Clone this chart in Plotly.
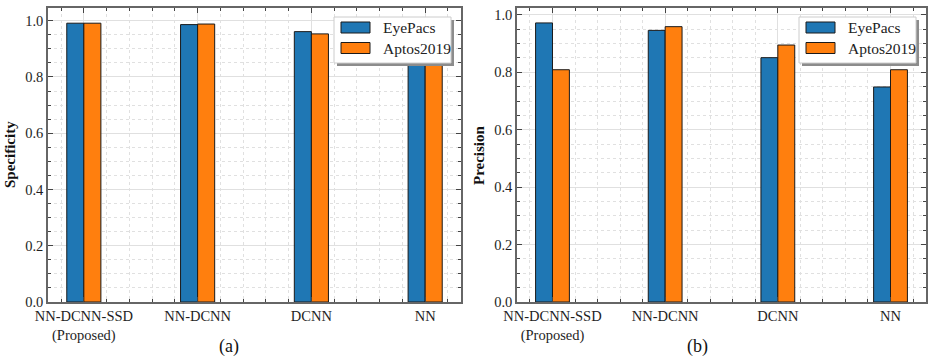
import plotly.graph_objects as go

categories = ["NN-DCNN-SSD<br>(Proposed)", "NN-DCNN", "DCNN", "NN"]
series_names = ["EyePacs", "Aptos2019"]
specificity_eyepacs = [0.991, 0.986, 0.961, 0.945]
specificity_aptos = [0.991, 0.988, 0.953, 0.935]
precision_eyepacs = [0.972, 0.946, 0.851, 0.749]
precision_aptos = [0.809, 0.959, 0.895, 0.809]
y_titles = ["Specificity", "Precision"]
captions = ["(a)", "(b)"]
yticks = [0.0, 0.2, 0.4, 0.6, 0.8, 1.0]

W, H = 934, 363
colors = ["#1f77b4", "#ff7f0e"]
FONT = "Liberation Serif, Times New Roman, serif"

def px(x):
    return x / W

def py(y):
    return 1 - y / H

panels = [
    dict(x0=48, x1=461, data=[specificity_eyepacs, specificity_aptos], yr=[0, 1.045],
         title_x=10, cap_x=229),
    dict(x0=517, x1=926, data=[precision_eyepacs, precision_aptos], yr=[0, 1.024],
         title_x=479, cap_x=697),
]
top_px, bot_px = 8, 302

fig = go.Figure()
xpos = list(range(len(categories)))

shapes = []
annotations = []
for i, p in enumerate(panels):
    sfx = "" if i == 0 else str(i + 1)
    for j, vals in enumerate(p["data"]):
        fig.add_trace(go.Bar(
            x=xpos, y=vals, name=series_names[j],
            width=0.15, offset=-0.15 + 0.15 * j,
            marker=dict(color=colors[j], line=dict(color="#1a1a1a", width=1)),
            xaxis="x" + sfx, yaxis="y" + sfx, showlegend=False,
        ))
    common_axis = dict(
        showline=True, linecolor="#666666", linewidth=1.5, mirror="allticks",
        ticks="inside", ticklen=5, tickwidth=1, tickcolor="#444444",
        showgrid=True, gridcolor="#e0e0e0", gridwidth=1,
        zeroline=False, automargin=False,
        tickfont=dict(family=FONT, size=14.5, color="#1e1e1e"),
    )
    minor_common = dict(ticks="inside", ticklen=3, tickcolor="#444444",
                        showgrid=True, gridcolor="#e0e0e0", griddash="3px,3px", gridwidth=1)
    fig.update_layout(**{
        "xaxis" + sfx: dict(
            common_axis,
            domain=[px(p["x0"]), px(p["x1"])],
            anchor="y" + sfx,
            range=[-0.315, 3.315],
            tickmode="array", tickvals=xpos, ticktext=categories,
            minor=dict(minor_common, dtick=0.2, tick0=0),
        ),
        "yaxis" + sfx: dict(
            common_axis,
            domain=[py(bot_px), py(top_px)],
            anchor="x" + sfx,
            range=p["yr"],
            tickmode="array", tickvals=yticks, tickformat=".1f",
            minor=dict(minor_common, dtick=0.05, tick0=0),
        ),
    })
    annotations.append(dict(xref="paper", yref="paper", x=px(p["title_x"]), y=py(155),
                            text="<b>" + y_titles[i] + "</b>", textangle=-90, showarrow=False,
                            xanchor="center", yanchor="middle",
                            font=dict(family=FONT, size=15, color="#111111")))
    # custom legend (matplotlib style with shadow)
    bx1 = p["x1"] - 10
    bx0 = bx1 - 117
    by0 = top_px + 9
    by1 = by0 + 46
    shapes.append(dict(type="rect", xref="paper", yref="paper",
                       x0=px(bx0 + 3), x1=px(bx1 + 3), y0=py(by1 + 3), y1=py(by0 + 3),
                       fillcolor="#8c8c8c", line=dict(width=0), layer="above"))
    shapes.append(dict(type="rect", xref="paper", yref="paper",
                       x0=px(bx0), x1=px(bx1), y0=py(by1), y1=py(by0),
                       fillcolor="white", line=dict(color="#cccccc", width=1), layer="above"))
    for j, name in enumerate(series_names):
        cy = by0 + 10.5 + j * 20.5
        shapes.append(dict(type="rect", xref="paper", yref="paper",
                           x0=px(bx0 + 7), x1=px(bx0 + 36), y0=py(cy + 5.5), y1=py(cy - 5.5),
                           fillcolor=colors[j], line=dict(color="#1a1a1a", width=1), layer="above"))
        annotations.append(dict(xref="paper", yref="paper", x=px(bx0 + 47), y=py(cy),
                                text=name, showarrow=False, xanchor="left", yanchor="middle",
                                font=dict(family=FONT, size=15.5, color="#222222")))
    annotations.append(dict(xref="paper", yref="paper",
                            x=px(p["cap_x"]), y=py(346),
                            text=captions[i], showarrow=False, xanchor="center", yanchor="middle",
                            font=dict(family=FONT, size=18, color="#111111")))

fig.update_layout(
    width=W, height=H,
    margin=dict(l=0, r=0, t=0, b=0),
    paper_bgcolor="white", plot_bgcolor="white",
    barmode="overlay",
    shapes=shapes, annotations=annotations,
    showlegend=False,
    font=dict(family=FONT),
)

fig.write_html("out.html", config={"displayModeBar": False},
               post_script="document.body.style.margin='0';document.body.style.overflow='hidden';")
